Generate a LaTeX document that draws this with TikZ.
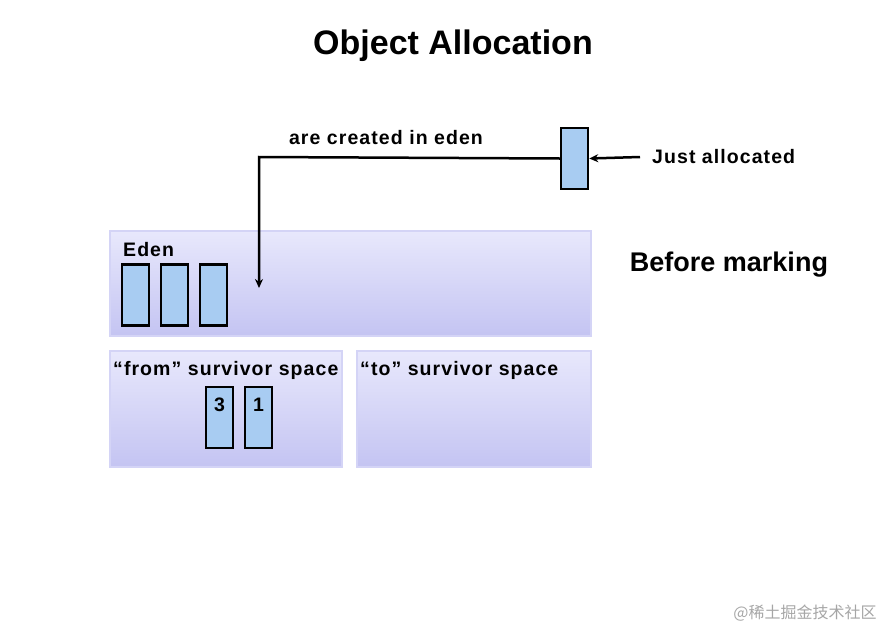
\documentclass[tikz,border=0pt]{standalone}
\usepackage{fontspec}
\setmainfont{Liberation Sans}
\newfontfamily\widefont[LetterSpace=5.5]{Liberation Sans}
\newfontfamily\cjk{Noto Sans CJK SC}
\usetikzlibrary{positioning, arrows.meta}
\definecolor{objblue}{HTML}{A8CCF2}
\definecolor{spacetop}{HTML}{E8E8FC}
\definecolor{spacebot}{HTML}{C4C4F2}
\definecolor{spaceedge}{HTML}{D4D4F6}
\tikzset{
  space/.style={draw=spaceedge, line width=2pt, top color=spacetop, bottom color=spacebot},
  obj/.style={draw=black, line width=2.5pt, fill=objblue, minimum width=27pt, minimum height=61pt, inner sep=0pt},
  lbl/.style={font=\widefont\bfseries\fontsize{19.5}{22}\selectfont, inner sep=0pt},
  link/.style={-{Stealth[length=9pt,width=8pt]}, line width=2.5pt}
}
\begin{document}
\begin{tikzpicture}[x=1pt,y=-1pt]
            \useasboundingbox (0,0) rectangle (888,632);
            % title
            \node[font=\bfseries\fontsize{34}{40}\selectfont] (title) at (453,46) {Object Allocation};
            % heap spaces
            \draw[space] (110,231) rectangle (591,336);
            \draw[space] (110,351) rectangle (342,467);
            \draw[space] (357,351) rectangle (591,467);
            \node[lbl, anchor=west] (eden) at (123,250) {Eden};
            \node[lbl, anchor=west] (from) at (113,370) {“from” survivor space};
            \node[lbl, anchor=west] (to) at (360,370) {“to” survivor space};
            % objects in eden
            \foreach \x [count=\i] in {135.5,174.5,213.5}
              \node[obj] (e\i) at (\x,295) {};
            % objects in from space
            \node[obj, label={[lbl, yshift=-26pt]north:3}] (s3) at (219.5,417.5) {};
            \node[obj, label={[lbl, yshift=-26pt]north:1}] (s1) at (258.5,417.5) {};
            % new object
            \node[obj] (new) at (574.5,158.5) {};
            \node[lbl, anchor=west] (just) at (652,157) {Just allocated};
            \draw[link] ([xshift=-12pt]just.west) -- (new.east);
            \coordinate (bend) at (259,157);
            \coordinate (land) at (259,288);
            \draw[link] (new.west) -- (bend) -- (land);
            \node[lbl] (created) at (386,138) {are created in eden};
            \node[font=\bfseries\fontsize{27}{32}\selectfont] (before) at (729,265) {Before marking};
            % watermark
            \node[font=\cjk\fontsize{16}{18}\selectfont, text=gray!70] (wm) at (805,613) {@稀土掘金技术社区};
\end{tikzpicture}
\end{document}
